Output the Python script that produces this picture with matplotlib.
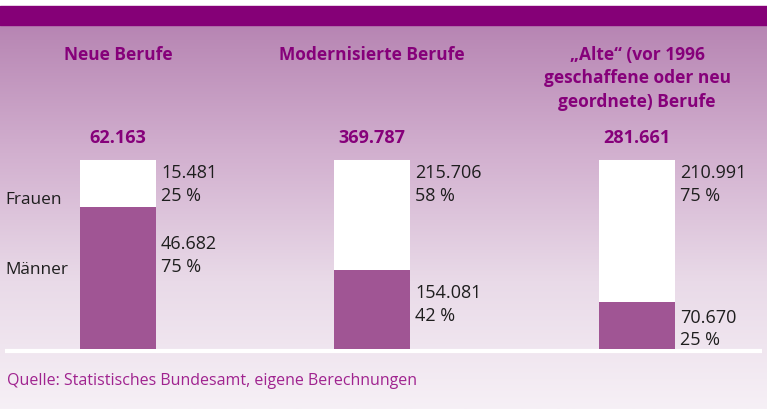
import numpy as np
import matplotlib
matplotlib.use("Agg")
import matplotlib.pyplot as plt
from matplotlib.colors import LinearSegmentedColormap

# ---- data ----
categories = ["Neue Berufe", "Modernisierte Berufe",
              "\u201eAlte\u201c (vor 1996\ngeschaffene oder neu\ngeordnete) Berufe"]
frauen = [15481, 215706, 210991]
maenner = [46682, 154081, 70670]
totals = [62163, 369787, 281661]
series_labels = ["Frauen", "M\u00e4nner"]
source = "Quelle: Statistisches Bundesamt, eigene Berechnungen"

def fmt(v):
    return f"{v:,}".replace(",", ".")

# ---- layout ----
W, H = 767, 410
bar_x = [118, 372, 637]
bar_w = 76
bar_top, bar_bot = 161, 350
m_label_off = [35, 21, 14]  # px below boundary for Männer labels

FONT = "Open Sans"
title_col = "#86007a"
bar_col = "#a05594"
txt_col = "#1e1e1e"

fig = plt.figure(figsize=(W / 100, H / 100), dpi=100)

# background axes in pixel coordinates
bg = fig.add_axes([0, 0, 1, 1])
bg.set_xlim(0, W)
bg.set_ylim(H, 0)
bg.axis("off")
cmap = LinearSegmentedColormap.from_list(
    "g", ["#b785b3", "#d2b0cf", "#e9dae8", "#f6f0f6"])
grad = np.linspace(0, 1, 256).reshape(-1, 1)
bg.imshow(grad, extent=[0, W, H, 26], cmap=cmap, aspect="auto", zorder=0)
bg.fill_between([0, W], 0, 7, color="white", zorder=1)
bg.fill_between([0, W], 7, 26, color="#850077", zorder=1)
bg.plot([5, 762], [352, 352], color="white", lw=3, zorder=2, solid_capstyle="butt")

# bars axes (percent scale)
ax = fig.add_axes([0, (H - bar_bot) / H, 1, (bar_bot - bar_top) / H])
ax.set_xlim(0, W)
ax.set_ylim(0, 100)
ax.axis("off")
ax.patch.set_alpha(0)

px_per_pct = (bar_bot - bar_top) / 100.0
for i, (f, m, t) in enumerate(zip(frauen, maenner, totals)):
    pm = m / t * 100
    pf = f / t * 100
    ax.bar(bar_x[i], pm, width=bar_w, color=bar_col, linewidth=0)
    ax.bar(bar_x[i], pf, bottom=pm, width=bar_w, color="white", linewidth=0)
    # labels
    xl = bar_x[i] + bar_w / 2 + 5
    bg.text(xl, bar_top + 3, f"{fmt(f)}\n{round(pf)} %", fontsize=13, family=FONT,
            color=txt_col, va="top", ha="left", linespacing=1.34)
    yb = bar_bot - pm * px_per_pct
    bg.text(xl, yb + m_label_off[i] - 8, f"{fmt(m)}\n{round(pm)} %", fontsize=13,
            family=FONT, color=txt_col, va="top", ha="left", linespacing=1.34)
    bg.text(bar_x[i], 138, fmt(t), fontsize=13, family=FONT, weight="bold",
            color=title_col, ha="center", va="center")
    bg.text(bar_x[i], 46, categories[i], fontsize=12.5, family=FONT,
            weight="bold", color=title_col, ha="center", va="top",
            linespacing=1.38)

bg.text(5, 200, series_labels[0], fontsize=12.4, family=FONT, color=txt_col,
        ha="left", va="center")
bg.text(5, 270, series_labels[1], fontsize=12.4, family=FONT, color=txt_col,
        ha="left", va="center")
bg.text(7, 381, source, fontsize=11.5, family=FONT, color="#a0238f",
        ha="left", va="center")

fig.savefig("out.png", dpi=100)
